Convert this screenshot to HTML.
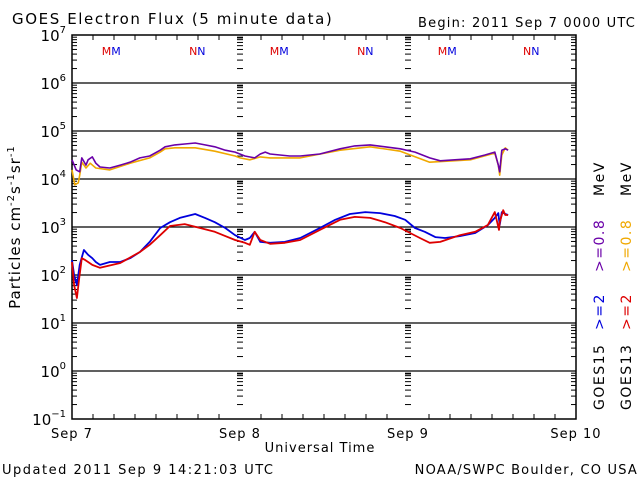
<!DOCTYPE html>
<html><head><meta charset="utf-8"><style>
html,body{margin:0;padding:0;background:#fff;}
svg{display:block;font-family:"DejaVu Sans","Liberation Sans",sans-serif;}
</style></head><body>
<svg id="c" width="640" height="480" viewBox="0 0 640 480">
<text x="12" y="24" font-size="15" letter-spacing="1.6">GOES Electron Flux (5 minute data)</text>
<text x="636" y="27" font-size="13" letter-spacing="1.2" text-anchor="end">Begin: 2011 Sep 7 0000 UTC</text>
<text x="0" y="0" font-size="15" letter-spacing="1" transform="translate(20,227) rotate(-90)" text-anchor="middle">Particles cm<tspan font-size="10" dy="-6">-2</tspan><tspan dy="6">s</tspan><tspan font-size="10" dy="-6">-1</tspan><tspan dy="6">sr</tspan><tspan font-size="10" dy="-6">-1</tspan></text>
<text x="320" y="452" font-size="13" letter-spacing="1" text-anchor="middle">Universal Time</text>
<text x="2" y="474" font-size="13" letter-spacing="1.5">Updated 2011 Sep  9 14:21:03 UTC</text>
<text x="638" y="474" font-size="13" letter-spacing="1.2" text-anchor="end">NOAA/SWPC Boulder, CO USA</text>
<g font-size="14" letter-spacing="1.5">
<text transform="translate(604,410) rotate(-90)" fill="#000">GOES15</text>
<text transform="translate(604,330) rotate(-90)" fill="#0000dd">&gt;=2</text>
<text transform="translate(604,272) rotate(-90)" fill="#6a00a8">&gt;=0.8</text>
<text transform="translate(604,196) rotate(-90)" fill="#000">MeV</text>
<text transform="translate(631,410) rotate(-90)" fill="#000">GOES13</text>
<text transform="translate(631,330) rotate(-90)" fill="#dd0000">&gt;=2</text>
<text transform="translate(631,272) rotate(-90)" fill="#f0a800">&gt;=0.8</text>
<text transform="translate(631,196) rotate(-90)" fill="#000">MeV</text>
</g>
<g id="axes"></g>
<g id="series"></g>
</svg>
<script>
const hoursG15_08=[0,0.6,1.1,1.4,2,2.3,2.9,3.4,4,5.4,6.9,8.3,9.7,11.1,12.6,13.3,14.7,16.1,17.6,19,20.4,21.9,23.3,24.7,26.1,26.9,27.6,28.3,29.7,31.1,32.6,35.4,38.3,40.4,42.6,44.7,46.9,49,51.1,52.6,54.7,56.9,59,60.4,60.9,61.1,61.4,61.9,62.3];
const logG15_08=[4.40,4.19,4.15,4.44,4.29,4.40,4.46,4.33,4.25,4.23,4.29,4.35,4.44,4.48,4.60,4.67,4.71,4.73,4.75,4.71,4.67,4.60,4.56,4.48,4.44,4.52,4.56,4.52,4.50,4.48,4.48,4.52,4.63,4.69,4.71,4.67,4.63,4.56,4.44,4.38,4.40,4.42,4.50,4.56,4.29,4.15,4.60,4.63,4.60];
const hoursG13_08=[0,0.4,0.9,1.1,1.4,2,2.6,3.4,5.4,8.3,11.1,12.6,13.3,14.7,17.6,20.4,23.3,24,25.4,26.9,28.3,32.6,38.3,42.6,46.9,51.1,56.9,60.4,60.9,61.1,61.4,61.9,62.3];
const logG13_08=[4.19,3.88,3.92,4.08,4.35,4.23,4.33,4.23,4.19,4.33,4.44,4.56,4.63,4.65,4.65,4.58,4.48,4.44,4.40,4.46,4.44,4.44,4.60,4.67,4.58,4.35,4.40,4.54,4.29,4.08,4.50,4.65,4.60];
const hoursG15_2=[0,0.3,0.7,1.1,1.7,2.3,2.9,3.4,4,5.4,6.9,8.3,9.7,11.1,12.6,14,15.4,17.6,19,20.4,21.9,23.3,24.7,25.4,26.1,26.9,28.3,30.4,32.6,35.4,37.6,39.7,41.9,44,46.1,47.6,49,50.4,51.9,53.3,55.4,57.6,59.4,60.4,60.9,61.1,61.4,61.9,62.3];
const logG15_2=[2.31,2.0,1.79,2.21,2.52,2.42,2.35,2.27,2.21,2.27,2.27,2.35,2.48,2.69,2.98,3.10,3.19,3.27,3.19,3.10,2.98,2.83,2.73,2.77,2.90,2.69,2.67,2.69,2.77,2.98,3.15,3.27,3.31,3.29,3.23,3.15,2.98,2.90,2.79,2.77,2.81,2.875,3.04,3.19,3.29,3.04,3.31,3.27,3.25];
const hoursG13_2=[0,0.3,0.7,1,1.4,1.9,2.3,2.9,4,6.9,9.7,11.1,12.6,14,16.1,18.3,20.4,21.9,23.3,24.7,25.4,26.1,26.9,28.3,30.4,32.6,35.4,38.3,40.4,42.6,44.7,46.9,49.7,51.1,52.6,55.4,57.6,59.4,60.4,61,61.1,61.6,61.9,62.3];
const logG13_2=[2.27,1.79,1.52,1.90,2.35,2.31,2.27,2.21,2.15,2.25,2.48,2.63,2.83,3.02,3.06,2.98,2.90,2.81,2.73,2.67,2.63,2.90,2.73,2.65,2.67,2.73,2.94,3.15,3.21,3.19,3.10,2.98,2.77,2.67,2.69,2.83,2.90,3.04,3.31,2.94,3.10,3.35,3.25,3.25];
const dayLabels=["Sep 7","Sep 8","Sep 9","Sep 10"];
const decadeExps=[7,6,5,4,3,2,1,0,-1];
const markerHours=[5.6,17.9,29.6,41.9,53.6,65.6];
const markerTexts=["MM","NN","MM","NN","MM","NN"];

const NS="http://www.w3.org/2000/svg";
const L=72,R=576,T=35,B=419;
const xS=h=>L+(h/72)*(R-L);
const yS=lg=>T+(7-lg)*48;
const ax=document.getElementById('axes'), se=document.getElementById('series');
function mk(tag,attrs,parent){const e=document.createElementNS(NS,tag);for(const k in attrs)e.setAttribute(k,attrs[k]);parent.appendChild(e);return e;}
let fr=mk('rect',{x:L,y:T,width:R-L,height:B-T,fill:'none',stroke:'#000','stroke-width':1.5},ax);


decadeExps.forEach(e=>{
  const y=yS(e);
  if(e<7&&e>-1){const g=mk('line',{x1:L,x2:R,y1:y,y2:y,stroke:'#000','stroke-width':1.2},ax);
    
    }
  const t=mk('text',{x:L-6,y:y+6,'font-size':15,'text-anchor':'end'},ax);
  
  
  t.textContent='10';
  const s=mk('tspan',{'font-size':10,dy:-8},t);s.textContent=String(e).replace('-','\u2212');
  if(e>-1){for(let m=2;m<=9;m++){const yy=yS(e-1+Math.log10(m));
    [[L,L+5],[R-5,R],[xS(24)-3,xS(24)+3],[xS(48)-3,xS(48)+3]].forEach(p=>mk('line',{x1:p[0],x2:p[1],y1:yy,y2:yy,stroke:'#000','stroke-width':1},ax));}}
});
[24,48].forEach(h=>{const x=xS(h);[yS(7)+3,yS(6)+3,yS(5)+3,yS(4)+3,yS(3)+3,yS(2)+3,yS(1)+3,yS(0)+3].forEach(y=>mk('line',{x1:x-3,x2:x+3,y1:y,y2:y,stroke:'#000'},ax));});
for(let h=3;h<72;h+=3){const x=xS(h);const len=h%24===0?0:5;
  mk('line',{x1:x,x2:x,y1:B,y2:B-len,stroke:'#000'},ax);mk('line',{x1:x,x2:x,y1:T,y2:T+len,stroke:'#000'},ax);}
dayLabels.forEach((d,i)=>{const t=mk('text',{x:xS(i*24),y:438,'font-size':13,'letter-spacing':1,'text-anchor':'middle'},ax);
  
  
  t.textContent=d;});
const th=mk('line',{x1:L,x2:R,y1:yS(3),y2:yS(3),stroke:'#000','stroke-dasharray':'6,4'},ax);


markerTexts.forEach((m,i)=>{const t=mk('text',{x:xS(markerHours[i]),y:55,'font-size':11,'text-anchor':'middle'},ax);
  
  
  const a=mk('tspan',{fill:'#dd0000'},t);a.textContent=m[0];const b=mk('tspan',{fill:'#0000dd'},t);b.textContent=m[1];});
function line(hs,vs,color,name,w){const d=hs.map((h,i)=>(i?'L':'M')+xS(h).toFixed(1)+','+yS(vs[i]).toFixed(1)).join(' ');
  const p=mk('path',{d:d,fill:'none',stroke:color,'stroke-width':w,'stroke-linejoin':'round'},se);
  
  }
line(hoursG13_08,logG13_08,'#f0a800','goes13-0.8mev-line',1.6);
line(hoursG15_08,logG15_08,'#6a00a8','goes15-0.8mev-line',1.6);
line(hoursG15_2,logG15_2,'#0000dd','goes15-2mev-line',1.8);
line(hoursG13_2,logG13_2,'#dd0000','goes13-2mev-line',1.8);
</script>
</body></html>
